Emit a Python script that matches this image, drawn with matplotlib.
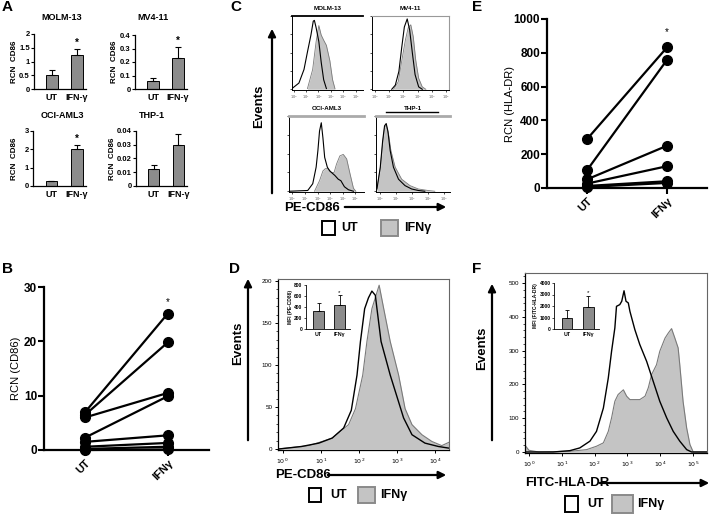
import matplotlib.pyplot as plt
import numpy as np
from matplotlib.patches import Rectangle, FancyArrowPatch
from matplotlib.ticker import MultipleLocator, LogLocator, NullFormatter

plt.rcParams['font.family'] = ['Liberation Sans', 'DejaVu Sans']

W, H = 713, 518

# ---------------- data ----------------
# A: qPCR bars
a_groups = ['UT', 'IFN-γ']
a_titles = ['MOLM-13', 'MV4-11', 'OCI-AML3', 'THP-1']
a_means = [[0.52, 1.22], [0.06, 0.23], [0.25, 2.0], [0.012, 0.030]]
a_err_top = [[0.68, 1.45], [0.085, 0.31], [0.27, 2.25], [0.015, 0.038]]
a_ymax = [2, 0.4, 3, 0.04]
a_yticks = [[0, 0.5, 1, 1.5, 2], [0, 0.1, 0.2, 0.3, 0.4], [0, 1, 2, 3],
            [0, 0.01, 0.02, 0.03, 0.04]]
a_star = [True, True, True, False]

# B / E: paired points
pair_groups = ['UT', 'IFNγ']
b_ut = [7.0, 6.5, 6.0, 2.3, 1.5, 0.6, 0.2, 0.0]
b_ifn = [25.1, 19.8, 10.5, 9.9, 2.7, 1.3, 0.6, 0.1]
e_ut = [289, 105, 51, 26, 12, 6]
e_ifn = [832, 758, 250, 129, 40, 30]

# C: small histograms (log10 fluorescence, fraction of max)
c_titles = ['MOLM-13', 'MV4-11', 'OCI-AML3', 'THP-1']
c_ut_dec = [
    [-0.14, 0.42, 0.83, 1.11, 1.39, 1.58, 1.67, 1.81, 2.03, 2.22, 2.42, 2.64],
    [1.2, 1.45, 1.7, 1.9, 2.08, 2.28, 2.45, 2.65, 2.83, 3.08, 3.33],
    [-0.27, 1.22, 1.62, 1.89, 2.03, 2.16, 2.30, 2.43, 2.57, 2.78, 2.97, 3.38,
     3.65, 3.86, 4.14, 4.46, 4.86],
    [-0.21, 0.0, 0.15, 0.27, 0.375, 0.48, 0.625, 0.83, 1.15, 1.56, 1.98, 2.4, 2.81],
]
c_ut_val = [
    [0.01, 0.085, 0.27, 0.51, 0.74, 0.93, 0.94, 0.84, 0.65, 0.37, 0.13, 0.01],
    [0.0, 0.057, 0.245, 0.575, 0.85, 0.96, 0.81, 0.48, 0.2, 0.033, 0.0],
    [0.0, 0.01, 0.10, 0.32, 0.54, 0.80, 0.91, 0.71, 0.45, 0.32, 0.27, 0.21,
     0.16, 0.14, 0.06, 0.02, 0.0],
    [0.03, 0.32, 0.67, 0.87, 0.90, 0.80, 0.54, 0.32, 0.16, 0.075, 0.03, 0.01, 0.0],
]
c_ifn_dec = [
    [1.11, 1.53, 1.81, 2.03, 2.22, 2.42, 2.64, 2.92, 3.14, 3.33],
    [1.33, 1.65, 1.9, 2.15, 2.35, 2.53, 2.7, 2.88, 3.08, 3.33, 3.58],
    [1.76, 2.16, 2.43, 2.62, 2.84, 3.11, 3.32, 3.51, 3.78, 4.05, 4.32, 4.59,
     4.86, 5.05],
    [-0.21, 0.0, 0.15, 0.27, 0.375, 0.52, 0.67, 0.94, 1.35, 1.875, 2.4, 3.02, 3.44],
]
c_ifn_val = [
    [0.01, 0.27, 0.65, 0.87, 0.74, 0.67, 0.60, 0.39, 0.13, 0.01],
    [0.0, 0.10, 0.39, 0.67, 0.84, 0.88, 0.72, 0.39, 0.15, 0.033, 0.0],
    [0.0, 0.14, 0.27, 0.30, 0.30, 0.25, 0.25, 0.36, 0.47, 0.49, 0.43, 0.23,
     0.04, 0.0],
    [0.044, 0.30, 0.63, 0.85, 0.88, 0.76, 0.54, 0.32, 0.16, 0.075, 0.03, 0.01, 0.0],
]

# D: PE-CD86 histogram
d_ut_dec = [-0.1, 0.5, 0.95, 1.3, 1.6, 1.8, 1.95, 2.04, 2.15, 2.25, 2.34, 2.43,
            2.47, 2.58, 2.82, 3.04, 3.17, 3.39, 3.73, 4.08, 4.36]
d_ut_cnt = [0, 3, 7, 13, 25, 46, 88, 128, 167, 180, 188, 183, 168, 128, 88, 56,
            37, 17, 7, 3, 1]
d_ifn_dec = [-0.1, 0.69, 1.04, 1.30, 1.51, 1.73, 1.91, 2.10, 2.21, 2.34, 2.53,
             2.65, 2.82, 3.04, 3.21, 3.39, 3.65, 3.91, 4.17, 4.36]
d_ifn_cnt = [0, 4, 9, 13, 21, 29, 48, 88, 128, 167, 195, 167, 128, 88, 48, 29,
             17, 9, 4, 8]
d_mfi = [330, 430]
d_mfi_top = [470, 610]

# F: FITC-HLA-DR histogram
f_ut_dec = [-0.12, 0.74, 1.25, 1.55, 1.86, 2.06, 2.27, 2.42, 2.52, 2.62, 2.67,
            2.77, 2.83, 2.90, 2.96, 3.03, 3.08, 3.23, 3.38, 3.59, 3.79, 3.99,
            4.20, 4.40, 4.60, 4.81, 4.96, 5.43]
f_ut_cnt = [0, 0, 4, 12, 32, 61, 130, 219, 298, 367, 431, 436, 446, 477, 446,
            441, 416, 362, 318, 268, 209, 150, 101, 61, 32, 7, 0, 0]
f_ifn_dec = [-0.12, 0.0, 0.3, 1.25, 1.76, 2.06, 2.27, 2.42, 2.52, 2.62, 2.72,
             2.88, 2.98, 3.08, 3.23, 3.38, 3.54, 3.64, 3.74, 3.89, 3.99, 4.15,
             4.25, 4.35, 4.45, 4.55, 4.60, 4.70, 4.81, 4.91, 5.01, 5.43]
f_ifn_cnt = [20, 5, 0, 2, 7, 17, 27, 61, 101, 150, 170, 184, 165, 155, 155, 155,
             165, 190, 229, 258, 298, 337, 352, 365, 337, 308, 258, 150, 71, 22,
             0, 0]
f_mfi = [1000, 1900]
f_mfi_top = [1620, 2850]

legend_labels = ['UT', 'IFNγ']

# ---------------- helpers ----------------
fig = plt.figure(figsize=(W / 100, H / 100), dpi=100)


def add_ax(l, t, r, b):
    return fig.add_axes([l / W, 1 - b / H, (r - l) / W, (b - t) / H])


def ftext(x, y, s, **kw):
    fig.text(x / W, 1 - y / H, s, **kw)


def fbox(l, t, r, b, **kw):
    fig.add_artist(Rectangle((l / W, 1 - b / H), (r - l) / W, (b - t) / H,
                             transform=fig.transFigure, **kw))


def farrow(x0, y0, x1, y1):
    fig.add_artist(FancyArrowPatch((x0 / W, 1 - y0 / H), (x1 / W, 1 - y1 / H),
                                   transform=fig.transFigure, arrowstyle='-|>',
                                   mutation_scale=11, lw=1.6, color='black'))


def legend_row(y, ut_box, ut_x, ifn_box, ifn_x, hb):
    fbox(ut_box[0], y - hb, ut_box[1], y + hb, fill=False, ec='black', lw=1.4)
    ftext(ut_x, y, legend_labels[0], fontsize=9, fontweight='bold', va='center')
    fbox(ifn_box[0], y - hb - 1, ifn_box[1], y + hb + 1, fc='#c4c4c4', ec='#8a8a8a', lw=1.4)
    ftext(ifn_x, y, legend_labels[1], fontsize=9, fontweight='bold', va='center')


# panel letters
for lab, x, y in [('A', 2, 7), ('C', 230, 7), ('E', 472, 7),
                  ('B', 2, 269), ('D', 229, 269), ('F', 472, 269)]:
    ftext(x, y, lab, fontsize=11, fontweight='bold', va='center')

# ---------------- A ----------------
a_boxes = [(34, 34, 86, 89), (135, 35, 187, 89), (33, 131, 86, 186), (136, 131, 187, 186)]
a_title_pos = [(62, 18), (153, 18), (62, 115), (152, 115)]
a_label_x = [15, 114, 15, 113]
for i in range(4):
    ax = add_ax(*a_boxes[i])
    x = np.arange(2)
    ax.bar(x, a_means[i], width=0.45, color='#8c8c8c', edgecolor='black', lw=0.7)
    err = np.array(a_err_top[i]) - np.array(a_means[i])
    ax.errorbar(x, a_means[i], yerr=[[0, 0], err], fmt='none', ecolor='black',
                elinewidth=0.8, capsize=2, capthick=0.8)
    if a_star[i]:
        ax.text(1, a_err_top[i][1] + a_ymax[i] * 0.02, '*', ha='center', va='bottom',
                fontsize=7, fontweight='bold')
    ax.set_xlim(-0.72, 1.36)
    ax.set_ylim(0, a_ymax[i])
    ax.set_yticks(a_yticks[i])
    ax.set_yticklabels(['%g' % v for v in a_yticks[i]], fontsize=5.5, fontweight='bold')
    ax.set_xticks(x)
    ax.set_xticklabels(a_groups, fontsize=6.5, fontweight='bold')
    ax.tick_params(axis='x', length=0, pad=3)
    ax.tick_params(axis='y', length=2, width=0.8, pad=1)
    for s in ['top', 'right']:
        ax.spines[s].set_visible(False)
    for s in ['left', 'bottom']:
        ax.spines[s].set_linewidth(0.9)
    l, t, r, b = a_boxes[i]
    ftext(a_label_x[i], (t + b) / 2, 'RCN  CD86', rotation=90, fontsize=5.8,
          fontweight='bold', ha='center', va='center')
    ftext(*a_title_pos[i], a_titles[i], fontsize=6.5, fontweight='bold',
          ha='center', va='center')


# ---------------- B and E ----------------
def paired(box, ut, ifn, ymax, yticks, ylabel, star_y, lab_x):
    ax = add_ax(*box)
    for u, v in zip(ut, ifn):
        ax.plot([0, 1], [u, v], '-o', color='black', lw=1.6, ms=7, clip_on=False)
    ax.text(1, star_y, '*', ha='center', va='center', fontsize=7)
    ax.set_xlim(-0.5, 1.5)
    ax.set_ylim(0, ymax)
    ax.set_yticks(yticks)
    ax.set_yticklabels([str(v) for v in yticks], fontsize=8.5, fontweight='bold')
    ax.set_xticks([0, 1])
    ax.set_xticklabels(pair_groups, rotation=45, ha='right', rotation_mode='anchor',
                       fontsize=8, fontweight='bold')
    ax.tick_params(axis='y', length=4, width=1.5, pad=1)
    ax.tick_params(axis='x', length=4, width=1.5, pad=2)
    for s in ['top', 'right']:
        ax.spines[s].set_visible(False)
    for s in ['left', 'bottom']:
        ax.spines[s].set_linewidth(1.6)
    l, t, r, b = box
    ftext(lab_x, (t + b) / 2, ylabel, rotation=90, fontsize=8, ha='center', va='center')
    return ax


paired((44, 287, 209, 450), b_ut, b_ifn, 30, [0, 10, 20, 30], 'RCN (CD86)', 27.3, 16)
paired((547, 19, 707, 188), e_ut, e_ifn, 1000, [0, 200, 400, 600, 800, 1000],
       'RCN (HLA-DR)', 925, 510)

# ---------------- C ----------------
c_boxes = [(292, 16, 363, 90), (372, 16, 449, 90), (289, 116, 364, 192), (376, 116, 450, 192)]
c_xlims = [(-0.14, 5.6), (-0.18, 5.2), (-0.27, 5.7), (-0.27, 4.4)]
c_xticks = [[0, 1, 2, 3, 4, 5], [0, 1, 2, 3, 4, 5], [0, 1, 2, 3, 4, 5], [0, 1, 2, 3, 4]]
c_title_y = [8, 8, 108, 108]
for i in range(4):
    ax = add_ax(*c_boxes[i])
    xi = np.power(10.0, c_ifn_dec[i])
    ax.fill_between(xi, 0, c_ifn_val[i], color='#c4c4c4', lw=0)
    ax.plot(xi, c_ifn_val[i], color='#7a7a7a', lw=0.6)
    ax.plot(np.power(10.0, c_ut_dec[i]), c_ut_val[i], color='black', lw=0.8)
    ax.set_xscale('log')
    ax.set_xlim(10 ** c_xlims[i][0], 10 ** c_xlims[i][1])
    ax.set_ylim(-0.01, 1.0)
    ax.set_xticks([10.0 ** k for k in c_xticks[i]])
    ax.set_xticklabels(['$10^{%d}$' % k for k in c_xticks[i]], fontsize=2.5, color='#555555')
    ax.xaxis.set_minor_locator(LogLocator(subs=np.arange(2, 10)))
    ax.xaxis.set_minor_formatter(NullFormatter())
    ax.set_yticks([0, 0.25, 0.5, 0.75, 1.0])
    ax.set_yticklabels([])
    ax.tick_params(length=1.5, width=0.5, pad=1)
    ax.tick_params(which='minor', length=0.8, width=0.4)
    for s in ['left', 'bottom']:
        ax.spines[s].set_linewidth(0.7)
    if i == 0:
        ax.spines['right'].set_visible(False)
        ax.spines['top'].set_linewidth(1.3)
    elif i == 1:
        ax.spines['right'].set_color('#999999')
        ax.spines['top'].set_color('#999999')
    else:
        ax.spines['right'].set_visible(False)
        ax.spines['top'].set_color('#aaaaaa')
        ax.spines['top'].set_linewidth(2)
    l, t, r, b = c_boxes[i]
    ftext((l + r) / 2, c_title_y[i], c_titles[i], fontsize=4.5, fontweight='bold',
          ha='center', va='center')
fig.add_artist(plt.Line2D([386 / W, 438 / W], [1 - 112 / H, 1 - 112 / H],
                          transform=fig.transFigure, color='black', lw=1.0))

farrow(272, 196, 272, 26)
ftext(259, 106, 'Events', rotation=90, fontsize=9.5, fontweight='bold',
      ha='center', va='center')
ftext(284, 208, 'PE-CD86', fontsize=9.5, fontweight='bold', va='center')
farrow(342, 207, 449, 207)
legend_row(228, (322, 335), 341, (381, 398), 404, 7)


# ---------------- D and F ----------------
def flow(box, ut_dec, ut_cnt, ifn_dec, ifn_cnt, xlim, ylim, ymaj, ymin, xt):
    ax = add_ax(*box)
    xi = np.power(10.0, ifn_dec)
    ax.fill_between(xi, 0, ifn_cnt, color='#c4c4c4', lw=0)
    ax.plot(xi, ifn_cnt, color='#7a7a7a', lw=0.8)
    ax.plot(np.power(10.0, ut_dec), ut_cnt, color='black', lw=1.0)
    ax.set_xscale('log')
    ax.set_xlim(10 ** xlim[0], 10 ** xlim[1])
    ax.set_ylim(*ylim)
    ax.set_xticks([10.0 ** k for k in xt])
    ax.set_xticklabels(['$10^{%d}$' % k for k in xt], fontsize=4.5)
    ax.xaxis.set_minor_locator(LogLocator(subs=np.arange(2, 10)))
    ax.xaxis.set_minor_formatter(NullFormatter())
    ax.yaxis.set_major_locator(MultipleLocator(ymaj))
    ax.yaxis.set_minor_locator(MultipleLocator(ymin))
    ax.tick_params(axis='y', labelsize=4.5, length=2.5, width=0.7, pad=1.5)
    ax.tick_params(axis='x', length=2.5, width=0.7, pad=2)
    ax.tick_params(which='minor', length=1.5, width=0.5)
    for s in ['left', 'bottom']:
        ax.spines[s].set_linewidth(0.9)
    for s in ['top', 'right']:
        ax.spines[s].set_color('#666666')
        ax.spines[s].set_linewidth(0.8)
    return ax


def inset(box, vals, tops, ymax, yticks, ylabel):
    ax = add_ax(*box)
    x = np.arange(2)
    ax.bar(x, vals, width=0.5, color='#8c8c8c', edgecolor='black', lw=0.6)
    ax.errorbar(x, vals, yerr=[[0, 0], np.array(tops) - np.array(vals)], fmt='none',
                ecolor='black', elinewidth=0.6, capsize=1.5, capthick=0.6)
    ax.text(1, tops[1] + ymax * 0.02, '*', ha='center', va='bottom', fontsize=4.5)
    ax.set_xlim(-0.6, 1.5)
    ax.set_ylim(0, ymax)
    ax.set_yticks(yticks)
    ax.set_yticklabels([str(v) for v in yticks], fontsize=3.5, fontweight='bold')
    ax.set_xticks(x)
    ax.set_xticklabels(['UT', 'IFNγ'], fontsize=3.8, fontweight='bold')
    ax.set_ylabel(ylabel, fontsize=3.5, fontweight='bold', labelpad=1)
    ax.tick_params(axis='y', length=1.5, width=0.5, pad=1)
    ax.tick_params(axis='x', length=0, pad=2)
    ax.patch.set_alpha(0)
    for s in ['top', 'right']:
        ax.spines[s].set_visible(False)
    for s in ['left', 'bottom']:
        ax.spines[s].set_linewidth(0.6)


flow((278, 279, 449, 450), d_ut_dec, d_ut_cnt, d_ifn_dec, d_ifn_cnt,
     (-0.12, 4.36), (-1.2, 202.4), 50, 10, [0, 1, 2, 3, 4])
inset((306, 285, 350, 329), d_mfi, d_mfi_top, 800, [0, 200, 400, 600, 800], 'MFI (PE-CD86)')
farrow(248, 443, 248, 276)
ftext(238, 343, 'Events', rotation=90, fontsize=9.5, fontweight='bold',
      ha='center', va='center')
ftext(275, 475, 'PE-CD86', fontsize=9.5, fontweight='bold', va='center')
farrow(325, 475, 449, 475)
legend_row(495, (309, 321), 330, (358, 375), 380, 7)

flow((525, 273, 707, 453), f_ut_dec, f_ut_cnt, f_ifn_dec, f_ifn_cnt,
     (-0.12, 5.43), (-3, 529.6), 100, 20, [0, 1, 2, 3, 4, 5])
inset((554, 283, 599, 329), f_mfi, f_mfi_top, 4000, [0, 1000, 2000, 3000, 4000],
      'MFI (FITC-HLA-DR)')
farrow(492, 443, 492, 281)
ftext(482, 348, 'Events', rotation=90, fontsize=9.5, fontweight='bold',
      ha='center', va='center')
ftext(525, 483, 'FITC-HLA-DR', fontsize=9.5, fontweight='bold', va='center')
farrow(597, 483, 712, 483)
legend_row(504, (565, 578), 587, (612, 633), 637, 8)

fig.savefig('out.png', dpi=100)
